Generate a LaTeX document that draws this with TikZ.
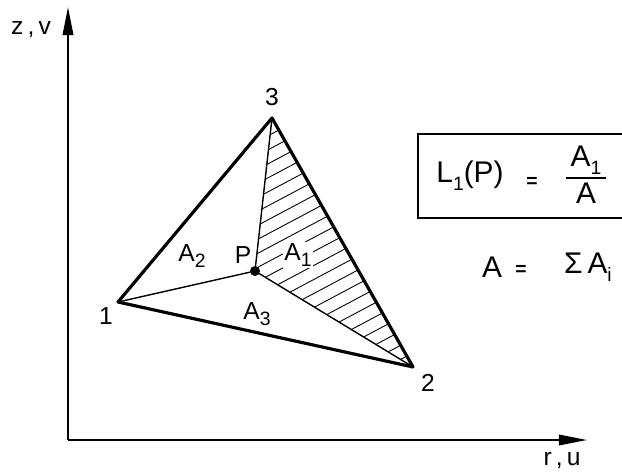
\documentclass[tikz,border=0pt]{standalone}
\usepackage{fontspec}
\setmainfont{Liberation Sans}
\usetikzlibrary{arrows.meta,positioning}
\newcommand{\lowsub}[1]{\raisebox{-0.5ex}{\fontsize{11}{12}\selectfont #1}}

\begin{document}
\begin{tikzpicture}[x=0.02cm, y=-0.02cm, >={Triangle[length=16pt,width=6pt]},
    font=\fontsize{14}{16}\selectfont,
    lbl/.style={inner sep=1pt},
    bigtxt/.style={inner sep=1pt, font=\fontsize{17}{19}\selectfont},
    eqsign/.style={inner sep=1pt, font=\fontsize{11}{12}\selectfont\bfseries}]
    \useasboundingbox (0,0) rectangle (622,473);

    % Assi coordinati
    \coordinate (O) at (68,440);
    \coordinate (ztop) at (68,7);
    \coordinate (rend) at (587,440);
    \draw[->, line width=1pt] (O) -- (ztop);
    \draw[->, line width=1pt] (O) -- (rend);
    \node[lbl] (zlab) at (31,30) {z\,,\,v};
    \node[lbl] (rlab) at (562,460) {r\,,\,u};

    % Vertici e punto P
    \coordinate (n1) at (118,302);
    \coordinate (n2) at (413,367);
    \coordinate (n3) at (272,118);
    \coordinate (P) at (255,271);

    % Tratteggio dell'area A1
    \begin{scope}
        \clip (P) -- (n3) -- (n2) -- cycle;
        \foreach \k in {130,144,...,520}
            \draw[line width=0.5pt] (200,\k) -- ++(-28:320);
    \end{scope}

    % Linee interne da P
    \draw[line width=0.8pt] (P) -- (n1);
    \draw[line width=0.8pt] (P) -- (n2);
    \draw[line width=0.8pt] (P) -- (n3);

    % Triangolo
    \draw[line width=1.8pt, line join=round] (n1) -- (n3) -- (n2) -- cycle;
    \fill (P) circle (5);

    % Etichette
    \node[lbl] (l3) at (272,97) {3};
    \node[lbl] (l1) at (106,316) {1};
    \node[lbl] (l2) at (428,383) {2};
    \node[lbl] (lP) at (243,255) {P};
    \node[lbl] (lA2) at (192,256) {A\lowsub{2}};
    \node[lbl, fill=white] (lA1) at (298,255) {A\lowsub{1}};
    \node[lbl] (lA3) at (257,314) {A\lowsub{3}};

    % Riquadro con la formula
    \draw[line width=1.5pt] (660,134) -| (418,218) -- (660,218);
    \node[bigtxt] (Lp) at (470,176) {L\lowsub{1}(P)};
    \node[eqsign] (eq1) at (532,182) {=};
    \node[bigtxt] (fr) at (586,178) {\renewcommand{\arraystretch}{1.05}\setlength{\arrayrulewidth}{1.4pt}%
        \begin{tabular}{@{\,}c@{\,}}A\lowsub{1}\\\hline A\end{tabular}};

    % Somma delle aree
    \node[bigtxt] (As) at (492,267) {A};
    \node[eqsign] (eq2) at (521,270) {=};
    \node[bigtxt, anchor=west] (sum) at (562,267) {Σ\,A\lowsub{i}};
\end{tikzpicture}
\end{document}
